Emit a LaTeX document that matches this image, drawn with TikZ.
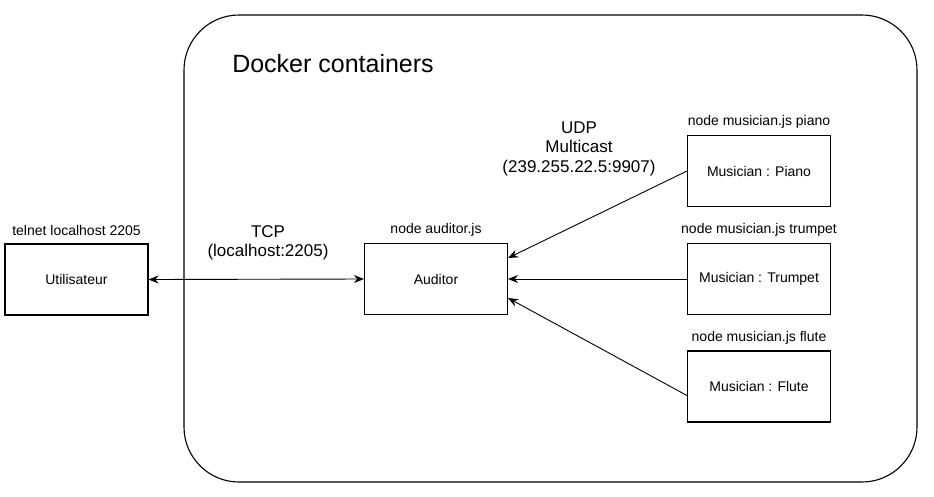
\documentclass[tikz,border=0pt]{standalone}
\usepackage{fontspec}
\setmainfont{Liberation Sans}
\usetikzlibrary{arrows.meta}
\begin{document}
\begin{tikzpicture}[x=1pt, y=-1pt, >={Stealth[length=10pt,width=8pt]},
  box/.style={draw, line width=1.1pt, minimum width=143pt, minimum height=71pt, font=\fontsize{14}{16}\selectfont},
  tag/.style={font=\fontsize{14}{16}\selectfont},
  proto/.style={align=center, font=\fontsize{17}{19.5}\selectfont},
  link/.style={line width=0.9pt}]
\useasboundingbox (0,0) rectangle (934,496);

\draw[line width=1.1pt, rounded corners=55pt] (184,15) rectangle (917,482);
\node[font=\fontsize{25}{28}\selectfont] (title) at (333,64) {Docker containers};

\node[box] (user) at (76.5,279.5) {Utilisateur};
\node[box] (auditor) at (436,279) {Auditor};
\node[box] (piano) at (759,171) {Musician : Piano};
\node[box] (trumpet) at (759,279) {Musician : Trumpet};
\node[box] (flute) at (759,386.5) {Musician : Flute};

\node[tag] (userlbl) at ([yshift=13pt]user.north) {telnet localhost 2205};
\node[tag] (auditorlbl) at ([yshift=13pt]auditor.north) {node auditor.js};
\node[tag] (pianolbl) at ([yshift=13pt]piano.north) {node musician.js piano};
\node[tag] (trumpetlbl) at ([yshift=13pt]trumpet.north) {node musician.js trumpet};
\node[tag] (flutelbl) at ([yshift=13pt]flute.north) {node musician.js flute};

\node[proto] (tcp) at (268,243) {TCP\\(localhost:2205)};
\node[proto] (udp) at (579,148.5) {UDP\\Multicast\\(239.255.22.5:9907)};

\draw[link, <->] (user.east) -- (auditor.west);
\draw[link, ->] (piano.west) -- ([yshift=21pt]auditor.east);
\draw[link, ->] (trumpet.west) -- (auditor.east);
\draw[link, ->] ([yshift=-9pt]flute.west) -- ([yshift=-19pt]auditor.east);
\end{tikzpicture}
\end{document}
